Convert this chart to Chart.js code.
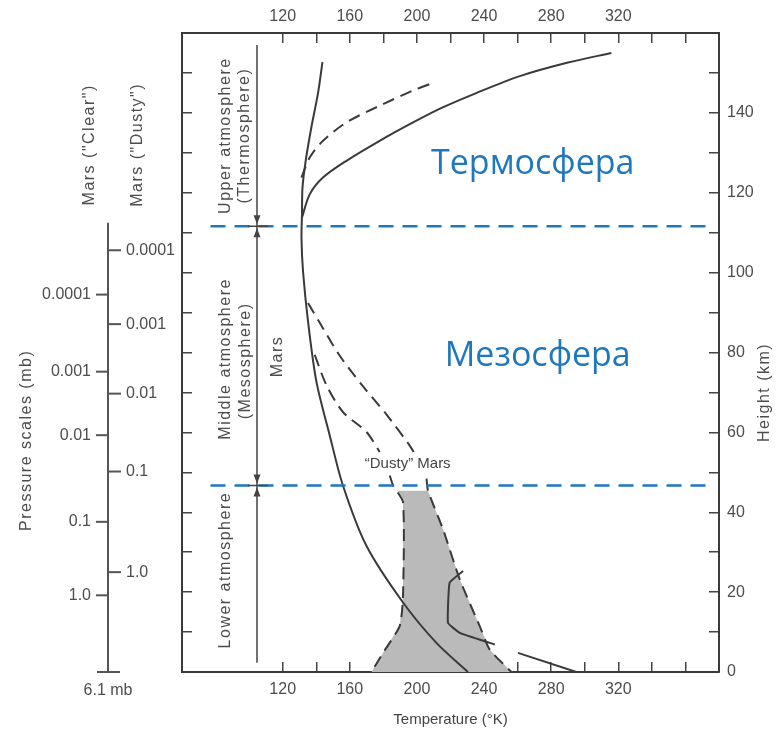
<!DOCTYPE html>
<html>
<head>
<meta charset="utf-8">
<script src="https://cdn.jsdelivr.net/npm/chart.js@4"></script>
<style>
  body { margin: 0; background: #fff; }
  #wrap { width: 782px; height: 733px; }
</style>
</head>
<body>
<div id="wrap"><canvas id="chart" width="782" height="733"></canvas></div>
<script>
// Mars "clear" profile (solid), bottom to top: temperature K / height km
const clearT = [230.4, 211.6, 191.7, 169.9, 155.9, 148.0, 140.1, 135.1, 132.1, 131.2, 131.5, 131.8, 133.7, 137.1, 141.0, 143.7];
const clearH = [0, 7.3, 17.4, 31.6, 46.7, 59.3, 72.7, 87.8, 100.4, 108.7, 114.6, 121.3, 128, 136.4, 144.8, 152.7];

// hot thermosphere branch (solid)
const thermoHotT = [131.5, 136.1, 144, 158, 177.8, 197.7, 215, 235, 261.3, 290, 315.9];
const thermoHotH = [113.8, 119.6, 123.8, 128, 133, 137.6, 141.3, 144.9, 149.2, 152.6, 155];

// thermosphere dashed branch
const thermoDashT = [131.2, 136.1, 144, 158, 177.8, 197.7, 210.6];
const thermoDashH = [123.8, 128.8, 133, 137.6, 141.8, 145.6, 147.7];

// dusty profiles in the mesosphere (dashed)
const mesoOuterT = [135.1, 144, 154, 167.9, 181.8, 195.7, 198.7];
const mesoOuterH = [92.4, 86.1, 79.2, 71.5, 64.5, 56.7, 54.6];
const mesoInnerT = [139.1, 146.1, 155.9, 169.9, 177.8];
const mesoInnerH = [79.4, 71.8, 65.1, 60.1, 55.1];

// dusty lower atmosphere envelope (dashed edges)
const dustyLeftT = [183.8, 185.8, 191.7, 191.7, 189.7, 179.8, 172.9];
const dustyLeftH = [49.2, 46.7, 42.5, 19, 11.5, 4.8, 0];
const dustyRightT = [205.7, 206.6, 215.5, 225.5, 237.4, 243.4, 256.3];
const dustyRightH = [48.4, 45.4, 35.8, 23.2, 11.5, 5.6, 0];

// shaded dusty band
const shadeT = [188.5, 191.7, 191.7, 189.7, 179.8, 172.9, 256.3, 243.4, 237.4, 225.5, 215.5, 206.6, 188.5];
const shadeH = [45.4, 42.5, 19, 11.5, 4.8, 0, 0, 5.6, 11.5, 23.2, 35.8, 45.4, 45.4];

// small solid profiles near the surface
const innerT = [227.5, 219.5, 218.5, 225.5, 243.4, 246.4];
const innerH = [25.3, 22.4, 12.3, 9.8, 7.3, 6.9];
const surfaceT = [260.2, 295];
const surfaceH = [4.8, 0];

// layer boundaries (blue dashed)
const boundaryT = [77, 372.5];
const thermoBaseH = 111.6;
const mesoBaseH = 46.7;

// axis ticks
const tempTicks = [120, 140, 160, 180, 200, 220, 240, 260, 280, 300, 320, 340, 360];
const heightTicks = [10, 20, 30, 40, 50, 60, 70, 80, 90, 100, 110, 120, 130, 140, 150];
const heightTicksRight = [0, 10, 20, 30, 40, 50, 60, 70, 80, 90, 100, 110, 120, 130, 140, 150];

// pressure scales (label, height in km where it sits)
const pressureLabels = ['0.0001', '0.001', '0.01', '0.1', '1.0'];
const clearPressH = [94.5, 75.2, 59.3, 37.6, 19.2];
const dustyPressH = [105.6, 87.1, 69.7, 50.2, 25.0];

// arrow layer limits
const layerH = [2.3, mesoBaseH, thermoBaseH, 157];

const pts = (t, h) => t.map((v, i) => ({x: v, y: h[i]}));

const GREY = '#3a3a3a';
const BLUE = '#1f77bd';
const TXT = '#4d4d4d';
const tickFont = {family: '"Liberation Sans", Arial, sans-serif', size: 16};

function solid(t, h, tension) {
  return {data: pts(t, h), borderColor: GREY, borderWidth: 2, pointRadius: 0, tension: tension, fill: false, order: 5};
}
function dashed(t, h, tension) {
  const d = solid(t, h, tension);
  d.borderDash = [12, 7];
  return d;
}
function blueLine(hv) {
  return {data: pts(boundaryT, boundaryT.map(() => hv)), borderColor: BLUE, borderWidth: 2.5,
    borderDash: [15, 9], pointRadius: 0, fill: false, order: 0};
}

function vtext(ctx, text, x, y, color, spacing) {
  ctx.save();
  ctx.translate(x, y);
  ctx.rotate(-Math.PI / 2);
  ctx.font = '16px "Liberation Sans", Arial, sans-serif';
  ctx.fillStyle = color;
  ctx.letterSpacing = spacing + 'px';
  ctx.textAlign = 'center';
  ctx.textBaseline = 'middle';
  ctx.fillText(text, 0, 0);
  ctx.restore();
}

function arrowHead(ctx, x, y, dir) {
  ctx.beginPath();
  ctx.moveTo(x, y);
  ctx.lineTo(x - 3.5, y - dir * 9);
  ctx.lineTo(x + 3.5, y - dir * 9);
  ctx.closePath();
  ctx.fill();
}

const decor = {
  id: 'decor',
  afterDatasetsDraw(chart) {
    const ctx = chart.ctx;
    const xs = chart.scales.x;
    const ys = chart.scales.y;
    const py = v => ys.getPixelForValue(v);

    // pressure scales
    const ax = 108;
    ctx.save();
    ctx.strokeStyle = '#555';
    ctx.lineWidth = 2;
    ctx.beginPath();
    ctx.moveTo(ax, py(112.5));
    ctx.lineTo(ax, py(0));
    ctx.moveTo(ax - 11, py(0));
    ctx.lineTo(ax + 12, py(0));
    ctx.stroke();
    ctx.font = '16px "Liberation Sans", Arial, sans-serif';
    ctx.fillStyle = TXT;
    ctx.textBaseline = 'middle';
    pressureLabels.forEach((lab, i) => {
      const yc = py(clearPressH[i]);
      ctx.beginPath(); ctx.moveTo(ax - 12, yc); ctx.lineTo(ax, yc); ctx.stroke();
      ctx.textAlign = 'right';
      ctx.fillText(lab, ax - 17, yc);
      const yd = py(dustyPressH[i]);
      ctx.beginPath(); ctx.moveTo(ax, yd); ctx.lineTo(ax + 13, yd); ctx.stroke();
      ctx.textAlign = 'left';
      ctx.fillText(lab, ax + 18, yd);
    });
    ctx.textAlign = 'center';
    ctx.fillText('6.1 mb', ax, py(0) + 19);
    ctx.restore();

    vtext(ctx, 'Mars ("Clear")', 90, py(132), TXT, 1.5);
    vtext(ctx, 'Mars ("Dusty")', 138, py(132), TXT, 1.5);
    vtext(ctx, 'Pressure scales (mb)', 27, py(58), TXT, 1.5);
    vtext(ctx, 'Height (km)', 765, py(70), TXT, 1.5);

    // layer names
    vtext(ctx, 'Upper atmosphere', 226, (py(layerH[2]) + py(layerH[3])) / 2, TXT, 1.5);
    vtext(ctx, '(Thermosphere)', 245, (py(layerH[2]) + py(layerH[3])) / 2, TXT, 1.5);
    vtext(ctx, 'Middle atmosphere', 226, (py(layerH[1]) + py(layerH[2])) / 2 + 3, TXT, 1.5);
    vtext(ctx, '(Mesosphere)', 246, (py(layerH[1]) + py(layerH[2])) / 2 + 5, TXT, 1.5);
    vtext(ctx, 'Lower atmosphere', 226, (py(layerH[0]) + py(layerH[1])) / 2 - 4, TXT, 1.5);
    vtext(ctx, 'Mars', 278, py(79), TXT, 1.5);

    // layer arrows
    const lx = 257;
    ctx.save();
    ctx.strokeStyle = '#444';
    ctx.fillStyle = '#444';
    ctx.lineWidth = 1.5;
    ctx.beginPath();
    ctx.moveTo(lx, py(layerH[3]));
    ctx.lineTo(lx, py(layerH[0]));
    [layerH[1], layerH[2]].forEach(h => {
      ctx.moveTo(lx - 9, py(h));
      ctx.lineTo(lx + 11, py(h));
    });
    ctx.stroke();
    [layerH[1], layerH[2]].forEach(h => {
      arrowHead(ctx, lx, py(h) - 2, 1);
      arrowHead(ctx, lx, py(h) + 2, -1);
    });
    ctx.restore();

    // "Dusty" Mars label
    ctx.save();
    ctx.font = '15px "Liberation Sans", Arial, sans-serif';
    ctx.fillStyle = '#444';
    ctx.textAlign = 'center';
    ctx.textBaseline = 'middle';
    ctx.fillText('\u201CDusty\u201D Mars', xs.getPixelForValue(194.5), py(52.1));

    // layer names in Russian
    ctx.font = '34px "Open Sans", "Noto Sans", sans-serif';
    ctx.fillStyle = BLUE;
    ctx.textBaseline = 'alphabetic';
    ctx.fillText('Термосфера', xs.getPixelForValue(269), py(124.6));
    ctx.fillText('Мезосфера', xs.getPixelForValue(272), py(76.5));
    ctx.restore();
  }
};

function tempAxis(position, padding, withTitle) {
  return {
    type: 'linear', position: position, min: 60, max: 380,
    afterBuildTicks: s => { s.ticks = tempTicks.map(v => ({value: v})); },
    afterFit: s => { s.height = position === 'top' ? 33 : 61; },
    grid: {drawOnChartArea: false, tickLength: -10, color: '#444', lineWidth: 1.5},
    border: {color: GREY, width: 2},
    ticks: {autoSkip: false, maxRotation: 0, padding: padding, color: TXT, font: tickFont,
      callback: v => (v % 40 === 0 && v <= 320) ? String(v) : ''},
    title: {display: withTitle, text: 'Temperature (°K)', color: '#444',
      font: {family: '"Liberation Sans", Arial, sans-serif', size: 15}, padding: {top: 0, bottom: 4}}
  };
}

new Chart(document.getElementById('chart'), {
  type: 'line',
  data: {
    datasets: [
      blueLine(thermoBaseH),
      blueLine(mesoBaseH),
      solid(clearT, clearH, 0.3),
      solid(thermoHotT, thermoHotH, 0.3),
      dashed(thermoDashT, thermoDashH, 0.3),
      dashed(mesoOuterT, mesoOuterH, 0.3),
      dashed(mesoInnerT, mesoInnerH, 0.3),
      dashed(dustyLeftT, dustyLeftH, 0.2),
      dashed(dustyRightT, dustyRightH, 0.2),
      solid(innerT, innerH, 0.1),
      solid(surfaceT, surfaceH, 0),
      {data: pts(shadeT, shadeH), borderWidth: 0, borderColor: 'rgba(0,0,0,0)', backgroundColor: '#bababa',
        pointRadius: 0, tension: 0, fill: 'shape', order: 10}
    ]
  },
  options: {
    responsive: false,
    animation: false,
    layout: {padding: 0},
    plugins: {legend: {display: false}, tooltip: {enabled: false}},
    scales: {
      x: tempAxis('bottom', 18, true),
      x2: tempAxis('top', 17, false),
      y: {
        type: 'linear', position: 'left', min: 0, max: 160,
        afterBuildTicks: s => { s.ticks = heightTicks.map(v => ({value: v})); },
        afterFit: s => { s.width = 182; },
        grid: {drawOnChartArea: false, tickLength: -10, color: '#444', lineWidth: 1.5},
        border: {color: GREY, width: 2},
        ticks: {autoSkip: false, callback: () => ''}
      },
      y2: {
        type: 'linear', position: 'right', min: 0, max: 160,
        afterBuildTicks: s => { s.ticks = heightTicksRight.map(v => ({value: v})); },
        afterFit: s => { s.width = 63; },
        grid: {drawOnChartArea: false, tickLength: -10, color: '#444', lineWidth: 1.5},
        border: {color: GREY, width: 2},
        ticks: {autoSkip: false, padding: 18, color: TXT, font: tickFont,
          callback: v => (v % 20 === 0 && v <= 140) ? String(v) : ''}
      }
    }
  },
  plugins: [decor]
});
</script>
</body>
</html>
